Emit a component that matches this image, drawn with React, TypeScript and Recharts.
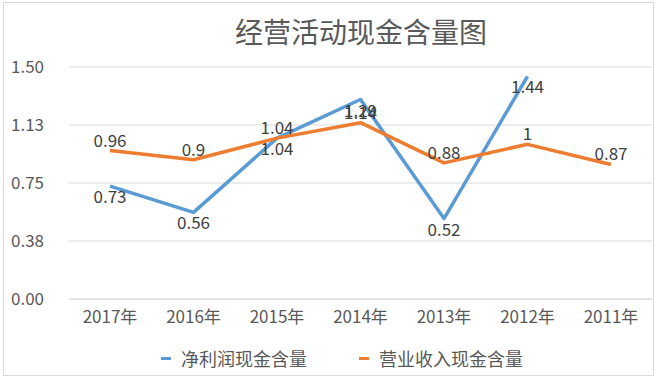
import { CartesianGrid, LabelList, Line, LineChart, XAxis, YAxis } from 'recharts';

const years = ['2017年', '2016年', '2015年', '2014年', '2013年', '2012年', '2011年'];
const netProfitCash = [0.73, 0.56, 1.04, 1.29, 0.52, 1.44, null];
const revenueCash = [0.96, 0.9, 1.04, 1.14, 0.88, 1, 0.87];
const yTicks = [0, 0.375, 0.75, 1.125, 1.5];

const seriesNames = { net: '净利润现金含量', revenue: '营业收入现金含量' };
const colors = { net: '#5b9bd5', revenue: '#ed7d31' };

const font = '"Noto Sans CJK SC", "Noto Sans", sans-serif';

const data = years.map((year, i) => ({
  year,
  net: netProfitCash[i],
  revenue: revenueCash[i],
}));

function ChartLegend() {
  return (
    <div
      style={{
        position: 'absolute',
        top: 345,
        left: 0,
        width: 684,
        display: 'flex',
        justifyContent: 'center',
        gap: 52,
        fontFamily: font,
        fontSize: 18,
        color: '#595959',
      }}
    >
      {(['net', 'revenue'] as const).map((key) => (
        <span key={key} style={{ display: 'flex', alignItems: 'center' }}>
          <i style={{ display: 'inline-block', width: 10, height: 3, background: colors[key], marginRight: 10 }} />
          {seriesNames[key]}
        </span>
      ))}
    </div>
  );
}

export default function App() {
  return (
    <div style={{ position: 'relative', width: 660, height: 379, background: '#fff' }}>
      <style>{'body { margin: 0; }'}</style>
      <div
        style={{
          position: 'absolute',
          left: 3,
          top: 2,
          width: 651,
          height: 374,
          border: '1px solid #d9d9d9',
          boxSizing: 'border-box',
        }}
      />
      <div
        style={{
          position: 'absolute',
          top: 11,
          left: 0,
          width: 722,
          textAlign: 'center',
          fontFamily: font,
          fontSize: 28,
          color: '#595959',
        }}
      >
        经营活动现金含量图
      </div>
      <LineChart width={660} height={379} data={data} margin={{ top: 67, right: 8, bottom: 50, left: 0 }}>
        <CartesianGrid vertical={false} stroke="#d9d9d9" strokeWidth={1} />
        <XAxis
          dataKey="year"
          height={30}
          padding={{ left: 41, right: 41 }}
          axisLine={{ stroke: '#d9d9d9' }}
          tickLine={false}
          tickSize={0}
          tickMargin={12}
          tick={{ fill: '#595959', fontSize: 17, fontFamily: font }}
        />
        <YAxis
          width={69}
          domain={[0, 1.5]}
          ticks={yTicks}
          axisLine={false}
          tickLine={false}
          tickSize={0}
          tickMargin={25}
          tickFormatter={(v) => Number(v).toFixed(2)}
          tick={{ fill: '#595959', fontSize: 17, fontFamily: font }}
        />
        <Line
          dataKey="net"
          stroke={colors.net}
          strokeWidth={3.5}
          strokeLinejoin="round"
          dot={false}
          activeDot={false}
          isAnimationActive={false}
        >
          <LabelList dataKey="net" position="bottom" offset={5} fill="#404040" fontSize={17} fontFamily={font} />
        </Line>
        <Line
          dataKey="revenue"
          stroke={colors.revenue}
          strokeWidth={3.5}
          strokeLinejoin="round"
          dot={false}
          activeDot={false}
          isAnimationActive={false}
        >
          <LabelList dataKey="revenue" position="top" offset={4} fill="#404040" fontSize={17} fontFamily={font} />
        </Line>
      </LineChart>
      <ChartLegend />
    </div>
  );
}
